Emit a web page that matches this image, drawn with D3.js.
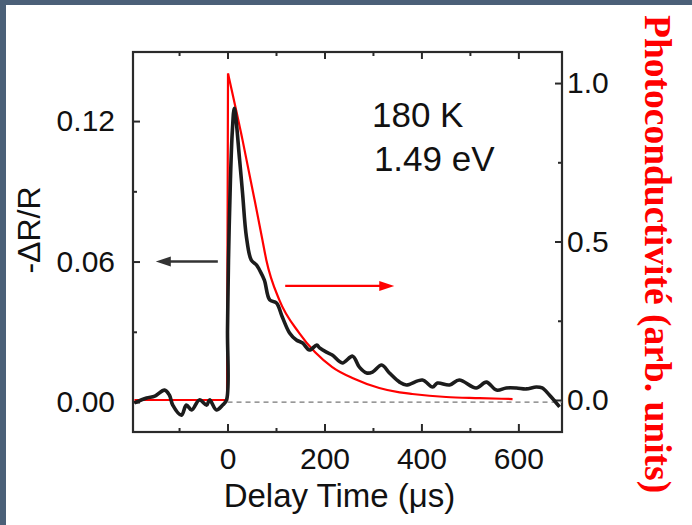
<!DOCTYPE html>
<html>
<head>
<meta charset="utf-8">
<script src="https://cdn.jsdelivr.net/npm/d3@7"></script>
<style>
  body { margin: 0; background: #4b6078; }
  #chart { position: absolute; left: 6px; top: 5px; }
</style>
</head>
<body>
<div id="chart"></div>
<script>
// Page size and plot frame
const width = 692;
const height = 525;
const margin = {left: 133, right: 130, top: 52, bottom: 93};

// Black trace: -dR/R versus delay time (left axis)
const blackTime = [-192, -167, -150, -130, -120, -113, -95, -85, -74, -58, -43, -37, -23, -10, -2,
  0, 2, 6, 10, 14, 25, 31, 39, 49, 60, 66, 76, 87, 101, 113, 128, 142, 155, 169, 184, 190,
  204, 216, 237, 258, 272, 287, 299, 318, 334, 355, 369, 402, 423, 433, 458, 478, 513, 534,
  555, 575, 596, 616, 637, 649, 664, 685];
const blackValue = [-0.0004, 0.0017, 0.0025, 0.0051, 0.003, -0.0013, -0.0056, -0.0013, -0.0034, 0.0009,
  -0.0013, 0.0009, -0.0034, -0.0013, 0.0009,
  0.031, 0.0606, 0.095, 0.116, 0.1255, 0.1033, 0.0892, 0.0705, 0.0606, 0.0585, 0.0564, 0.0521,
  0.0436, 0.0423, 0.0363, 0.0295, 0.0265, 0.0252, 0.0222, 0.0243, 0.0231, 0.0213, 0.0201,
  0.0167, 0.0196, 0.0149, 0.0124, 0.0128, 0.0158, 0.0124, 0.0085, 0.0073, 0.0094, 0.0064,
  0.0081, 0.0073, 0.0094, 0.006, 0.0085, 0.0051, 0.006, 0.006, 0.0056, 0.0064, 0.006,
  0.003, -0.0021];

// Red trace: photoconductivity (right axis)
const redTime = [-192, -1, 1, 31, 56, 72, 80, 107, 148, 216, 260, 313, 355, 381, 451, 520, 588];
const redValue = [0, 0, 1.03, 0.82, 0.63, 0.505, 0.442, 0.315, 0.211, 0.104, 0.068, 0.038,
  0.024, 0.019, 0.0095, 0.006, 0.003];

// Ticks
const xMajor = [0, 200, 400, 600];
const xMinor = [-100, 100, 300, 500];
const yLeftMajor = [0, 0.06, 0.12];
const yLeftMinor = [0.03, 0.09];
const yRightMajor = [0, 0.5, 1.0];
const yRightMinor = [0.25, 0.75];

const black = blackTime.map((t, i) => ({t: t, v: blackValue[i]}));
const red = redTime.map((t, i) => ({t: t, v: redValue[i]}));

const svg = d3.select("#chart")
  .append("svg")
  .attr("width", width - 6)
  .attr("height", height - 5)
  .attr("viewBox", [6, 5, width - 6, height - 5])
  .style("background", "#fff");

// Scales
const x = d3.scaleLinear()
  .domain([-195, 690])
  .range([margin.left, width - margin.right]);
const yL = d3.scaleLinear()
  .domain([-0.0128, 0.1495])
  .range([height - margin.bottom, margin.top]);
const yR = d3.scaleLinear()
  .domain([-0.101, 1.098])
  .range([height - margin.bottom, margin.top]);

const font = "'Liberation Sans', Arial, sans-serif";
const axisColor = "#2a2a2a";

function styleAxis(g) {
  g.select(".domain").remove();
  g.selectAll("line").attr("stroke", axisColor).attr("stroke-width", 2);
  g.selectAll("text").attr("font-family", font).attr("font-size", 30).attr("fill", "#111");
}

// Axes (ticks point inward)
svg.append("g")
  .attr("transform", `translate(0,${height - margin.bottom})`)
  .call(d3.axisBottom(x).tickValues(xMajor).tickSize(-8).tickPadding(16).tickFormat(d3.format("d")))
  .call(styleAxis);
svg.append("g")
  .attr("transform", `translate(0,${height - margin.bottom})`)
  .call(d3.axisBottom(x).tickValues(xMinor).tickSize(-4).tickFormat(""))
  .call(styleAxis);
svg.append("g")
  .attr("transform", `translate(0,${margin.top})`)
  .call(d3.axisTop(x).tickValues(xMajor).tickSize(-7).tickFormat(""))
  .call(styleAxis);
svg.append("g")
  .attr("transform", `translate(0,${margin.top})`)
  .call(d3.axisTop(x).tickValues(xMinor).tickSize(-4).tickFormat(""))
  .call(styleAxis);

svg.append("g")
  .attr("transform", `translate(${margin.left},0)`)
  .call(d3.axisLeft(yL).tickValues(yLeftMajor).tickSize(-7).tickPadding(18).tickFormat(d3.format(".2f")))
  .call(styleAxis);
svg.append("g")
  .attr("transform", `translate(${margin.left},0)`)
  .call(d3.axisLeft(yL).tickValues(yLeftMinor).tickSize(-4).tickFormat(""))
  .call(styleAxis);

svg.append("g")
  .attr("transform", `translate(${width - margin.right},0)`)
  .call(d3.axisRight(yR).tickValues(yRightMajor).tickSize(-7).tickPadding(5).tickFormat(d3.format(".1f")))
  .call(styleAxis);
svg.append("g")
  .attr("transform", `translate(${width - margin.right},0)`)
  .call(d3.axisRight(yR).tickValues(yRightMinor).tickSize(-4).tickFormat(""))
  .call(styleAxis);

// Frame
svg.append("rect")
  .attr("x", margin.left)
  .attr("y", margin.top)
  .attr("width", width - margin.left - margin.right)
  .attr("height", height - margin.top - margin.bottom)
  .attr("fill", "none")
  .attr("stroke", axisColor)
  .attr("stroke-width", 2.2);

// Dashed zero line
svg.append("line")
  .attr("x1", x(0)).attr("x2", x(690))
  .attr("y1", yL(0)).attr("y2", yL(0))
  .attr("stroke", "#777")
  .attr("stroke-width", 1.3)
  .attr("stroke-dasharray", "5,4");

// Red curve: flat part + jump, then smooth decay
const redLine = d3.line().x(d => x(d.t)).y(d => yR(d.v));
const redSmooth = d3.line().x(d => x(d.t)).y(d => yR(d.v)).curve(d3.curveMonotoneX);
svg.append("path")
  .attr("d", redLine(red.slice(0, 3)))
  .attr("fill", "none").attr("stroke", "#ff0000").attr("stroke-width", 2.2);
svg.append("path")
  .attr("d", redSmooth(red.slice(2)))
  .attr("fill", "none").attr("stroke", "#ff0000").attr("stroke-width", 2.2);

// Black curve
const blackLine = d3.line().x(d => x(d.t)).y(d => yL(d.v)).curve(d3.curveCatmullRom.alpha(0.5));
svg.append("path")
  .attr("d", blackLine(black))
  .attr("fill", "none")
  .attr("stroke", "#1c1c1c")
  .attr("stroke-width", 3.6)
  .attr("stroke-linejoin", "round");

// Arrows
function arrow(x1, x2, yy, color, w) {
  const dir = x2 > x1 ? 1 : -1;
  svg.append("line")
    .attr("x1", x1).attr("x2", x2 - dir * 12)
    .attr("y1", yy).attr("y2", yy)
    .attr("stroke", color).attr("stroke-width", w);
  svg.append("path")
    .attr("d", `M${x2},${yy} L${x2 - dir * 15},${yy - 5} L${x2 - dir * 15},${yy + 5} Z`)
    .attr("fill", color);
}
arrow(x(-20), x(-148), yL(0.06), "#333", 2.5);
arrow(x(119), x(344), yR(0.36), "#ff0000", 2.2);

// Annotations
svg.append("text")
  .attr("x", x(298)).attr("y", yL(0.1174))
  .attr("font-family", font).attr("font-size", 35).attr("fill", "#111")
  .text("180 K");
svg.append("text")
  .attr("x", x(302)).attr("y", yL(0.0987))
  .attr("font-family", font).attr("font-size", 35).attr("fill", "#111")
  .text("1.49 eV");

// Axis titles
svg.append("text")
  .attr("x", (x(-195) + x(690)) / 2 - 8)
  .attr("y", 507)
  .attr("text-anchor", "middle")
  .attr("font-family", font).attr("font-size", 33).attr("fill", "#111")
  .text("Delay Time (μs)");

svg.append("text")
  .attr("transform", "translate(40,230) rotate(-90)")
  .attr("text-anchor", "middle")
  .attr("font-family", font).attr("font-size", 32).attr("fill", "#111")
  .text("-ΔR/R");

svg.append("text")
  .attr("transform", "translate(645,15) rotate(90)")
  .attr("text-anchor", "start")
  .attr("font-family", "'Liberation Serif', 'Times New Roman', serif")
  .attr("font-weight", "bold")
  .attr("font-size", 37.5)
  .attr("fill", "#ff0000")
  .text("Photoconductivité (arb. units)");
</script>
</body>
</html>
